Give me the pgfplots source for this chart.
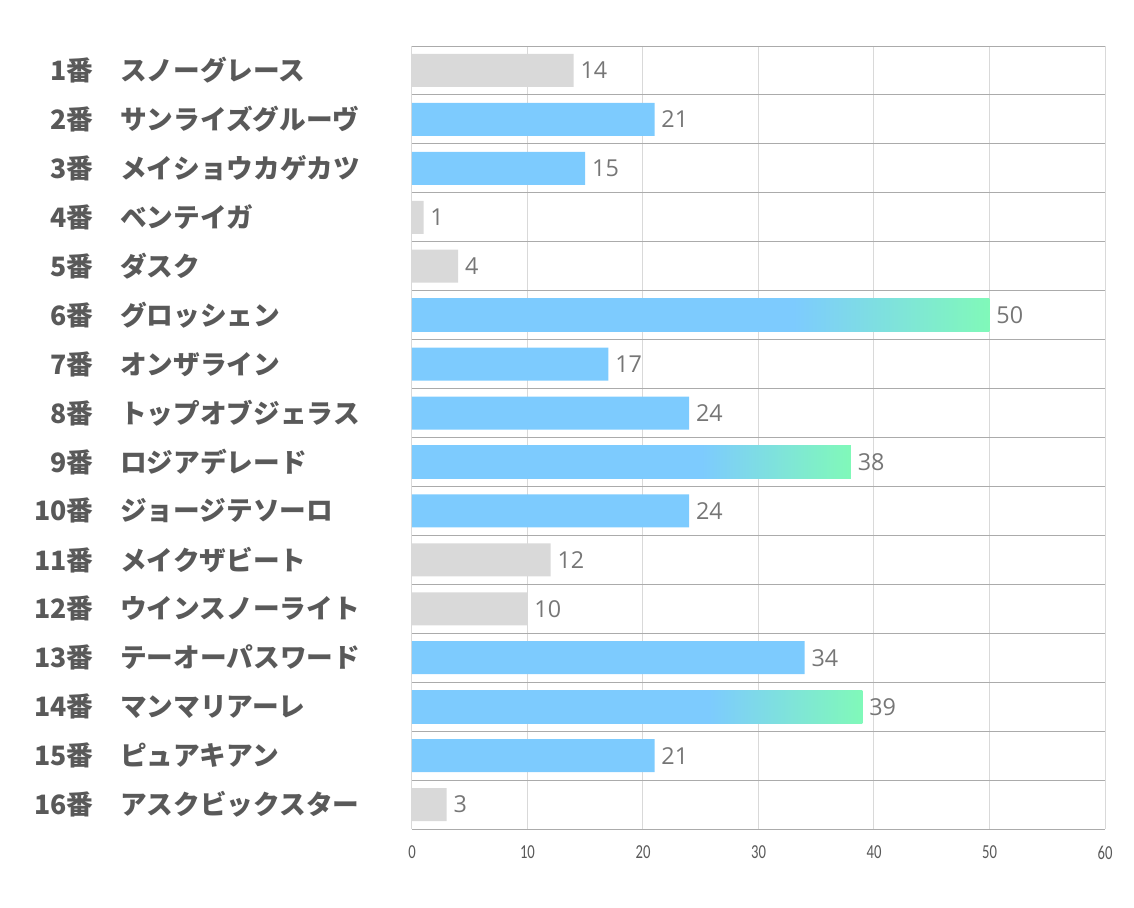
\documentclass[border=0pt]{standalone}
\usepackage{pgfplots}
\pgfplotsset{compat=1.18}
\usepackage{fontspec}
\setmainfont{Open Sans}
\newfontfamily\cjk{Noto Sans CJK JP}
\newfontfamily\tickfont{Carlito}
\definecolor{blu}{HTML}{7DCBFE}
\definecolor{gry}{HTML}{D9D9D9}
\definecolor{grn}{HTML}{80F9B9}
\definecolor{txt}{HTML}{595959}
\definecolor{val}{HTML}{767676}
\pgfdeclarehorizontalshading{grad}{100bp}{color(0bp)=(blu); color(25bp)=(blu); color(58bp)=(blu); color(75bp)=(grn); color(100bp)=(grn)}
\newcommand{\lab}[2]{\makebox[40pt][r]{#1番}\hspace{20pt}#2}
\begin{document}
\begin{tikzpicture}
\begin{axis}[
  scale only axis,
  width=519.75pt, height=587.25pt,
  xmin=0, xmax=60,
  ymin=0.5, ymax=16.5,
  y dir=reverse,
  xtick={0,10,...,60},
  ytick={1,...,16},
  yticklabels={
    \lab{1}{スノーグレース},
    \lab{2}{サンライズグルーヴ},
    \lab{3}{メイショウカゲカツ},
    \lab{4}{ベンテイガ},
    \lab{5}{ダスク},
    \lab{6}{グロッシェン},
    \lab{7}{オンザライン},
    \lab{8}{トップオブジェラス},
    \lab{9}{ロジアデレード},
    \lab{10}{ジョージテソーロ},
    \lab{11}{メイクザビート},
    \lab{12}{ウインスノーライト},
    \lab{13}{テーオーパスワード},
    \lab{14}{マンマリアーレ},
    \lab{15}{ピュアキアン},
    \lab{16}{アスクビックスター}},
  minor ytick={0.5,1.5,...,16.5},
  xmajorgrids, yminorgrids,
  major grid style={color=gry, line width=0.75pt},
  minor grid style={color=black!33, line width=0.75pt},
  axis line style={draw=none},
  tick style={draw=none},
  major tick length=0pt, minor tick length=0pt,
  yticklabel style={font=\cjk\bfseries\fontsize{20}{24}\selectfont, text=txt,
    anchor=west, inner sep=0pt, xshift=-279pt},
  xticklabel style={font=\tickfont\fontsize{11}{13}\selectfont, text=txt, yshift=-9pt},
  xticklabel={\scalebox{1}[1.35]{\pgfmathprintnumber[assume math mode=true]{\tick}}},
  xbar, bar width=0.675, bar shift=0pt,
  nodes near coords={\pgfmathprintnumber[assume math mode=true]{\pgfplotspointmeta}},
  nodes near coords style={font=\fontsize{17.5}{20}\selectfont, text=val,
    anchor=west, inner sep=0pt, xshift=5pt},
]
\addplot[draw=none, fill=gry] coordinates {
  (14,1) (1,4) (4,5) (12,11) (10,12) (3,16)};
\addplot[draw=none, fill=blu] coordinates {
  (21,2) (15,3) (17,7) (24,8) (24,10) (34,13) (21,15)};
\addplot[draw=none, shading=grad] coordinates {(50,6)};
\addplot[draw=none, shading=grad] coordinates {(38,9)};
\addplot[draw=none, shading=grad] coordinates {(39,14)};
\end{axis}
\pgfresetboundingbox
\path ([xshift=-309pt,yshift=-58.5pt]current axis.south west)
  rectangle ([xshift=21.75pt,yshift=34.5pt]current axis.north east);
\end{tikzpicture}
\end{document}
